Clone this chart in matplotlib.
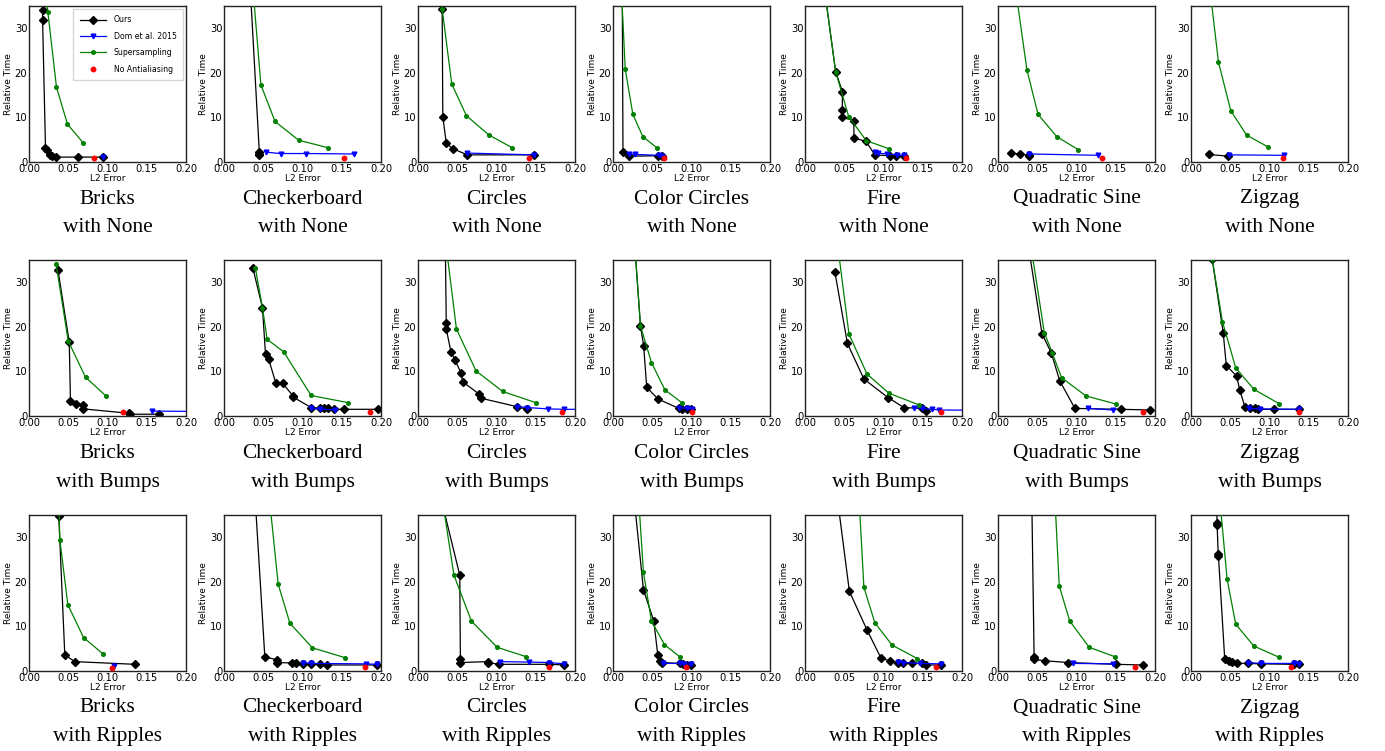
import matplotlib
matplotlib.use("Agg")
import matplotlib.pyplot as plt

SCENES = ["Bricks", "Checkerboard", "Circles", "Color Circles", "Fire", "Quadratic Sine", "Zigzag"]
MODIFIERS = ["None", "Bumps", "Ripples"]
XTICKS = [0.00, 0.05, 0.10, 0.15, 0.20]
YTICKS = [0, 10, 20, 30]
SERIES_NAMES = ["Ours", "Dom et al. 2015", "Supersampling", "No Antialiasing"]

# ---- Ours (row-major: None row, Bumps row, Ripples row) ----
OURS_X = [
    [0.0173, 0.0173, 0.021, 0.0224, 0.027, 0.0295, 0.035, 0.063, 0.094],
    [0.030, 0.045, 0.0445, 0.045],
    [0.0308, 0.0316, 0.036, 0.044, 0.063, 0.148],
    [0.0115, 0.0127, 0.020, 0.057, 0.062],
    [0.020, 0.039, 0.0476, 0.0476, 0.0476, 0.0623, 0.0623, 0.078, 0.0888, 0.1086, 0.116, 0.1255],
    [0.0169, 0.028, 0.040, 0.040],
    [0.0224, 0.0474],
    [0.0369, 0.0513, 0.0528, 0.060, 0.069, 0.069, 0.128, 0.129, 0.166],
    [0.0369, 0.049, 0.0529, 0.057, 0.066, 0.0748, 0.088, 0.0885, 0.111, 0.122, 0.128, 0.133, 0.140, 0.153, 0.196],
    [0.034, 0.036, 0.036, 0.042, 0.047, 0.055, 0.0567, 0.078, 0.080, 0.126, 0.139],
    [0.025, 0.035, 0.039, 0.043, 0.0575, 0.084, 0.088, 0.094, 0.099],
    [0.038, 0.054, 0.075, 0.106, 0.126, 0.149, 0.154],
    [0.0327, 0.056, 0.068, 0.0786, 0.098, 0.157, 0.193],
    [0.027, 0.041, 0.045, 0.058, 0.0622, 0.0686, 0.075, 0.081, 0.085, 0.106, 0.137],
    [0.0379, 0.0456, 0.0585, 0.135],
    [0.0375, 0.052, 0.0675, 0.0675, 0.087, 0.092, 0.101, 0.111, 0.122, 0.1315, 0.1947],
    [0.0206, 0.0532, 0.054, 0.054, 0.0887, 0.0887, 0.1034, 0.1675, 0.186],
    [0.0232, 0.0388, 0.052, 0.057, 0.0594, 0.0625, 0.085, 0.089, 0.094, 0.099],
    [0.0367, 0.0565, 0.079, 0.0965, 0.108, 0.119, 0.125, 0.1365, 0.149, 0.154, 0.173],
    [0.0425, 0.046, 0.046, 0.0594, 0.0895, 0.150, 0.185],
    [0.031, 0.0333, 0.0333, 0.0346, 0.035, 0.043, 0.048, 0.0526, 0.059, 0.072, 0.0897, 0.131, 0.137],
]
OURS_Y = [
    [34.1, 31.9, 3.1, 2.6, 1.6, 1.3, 1.1, 1.1, 1.1],
    [50, 2.2, 1.8, 1.6],
    [34.3, 10.2, 4.25, 3.0, 1.6, 1.6],
    [50, 2.2, 1.3, 1.4, 1.4],
    [45, 20.3, 15.8, 11.7, 10.0, 9.3, 5.4, 4.6, 1.6, 1.4, 1.4, 1.4],
    [2.0, 1.8, 1.5, 1.3],
    [1.7, 1.3],
    [32.8, 16.5, 3.4, 2.8, 2.5, 1.6, 0.6, 0.4, 0.4],
    [33.1, 24.3, 13.8, 12.7, 7.4, 7.3, 4.5, 4.2, 1.9, 1.7, 1.7, 1.7, 1.5, 1.5, 1.5],
    [50, 20.9, 19.5, 14.4, 12.6, 9.6, 7.7, 4.9, 4.0, 2.1, 1.5],
    [45, 20.2, 15.8, 6.4, 3.8, 1.7, 1.6, 1.5, 1.6],
    [32.4, 16.3, 8.3, 4.1, 1.9, 1.7, 1.2],
    [45, 18.5, 14.1, 7.9, 1.7, 1.5, 1.35],
    [35.2, 18.7, 11.3, 9.0, 5.8, 2.1, 1.7, 1.9, 1.5, 1.5, 1.5],
    [34.8, 3.6, 2.1, 1.5],
    [45, 3.2, 2.5, 1.9, 1.8, 1.7, 1.5, 1.5, 1.5, 1.35, 1.35],
    [45, 21.5, 2.6, 1.9, 2.1, 1.9, 1.5, 1.5, 1.35],
    [45, 18.2, 11.2, 3.6, 2.3, 1.9, 1.7, 1.6, 1.35, 1.35],
    [45, 17.9, 9.2, 3.0, 2.2, 1.9, 1.9, 1.7, 1.7, 1.35, 1.35],
    [45, 3.2, 2.6, 2.3, 1.9, 1.5, 1.35],
    [45, 33.1, 32.8, 26.3, 25.7, 2.6, 2.3, 2.1, 1.7, 1.7, 1.6, 1.5, 1.5],
]

# ---- Dom et al. 2015 ----
DOM_X = [
    [0.094],
    [0.0536, 0.072, 0.105, 0.165],
    [0.063, 0.148],
    [0.020, 0.028, 0.058, 0.062],
    [0.0888, 0.0926, 0.105, 0.1166, 0.126],
    [0.040, 0.128],
    [0.049, 0.118],
    [0.157, 0.23],
    [0.111, 0.122, 0.141],
    [0.126, 0.139, 0.165, 0.186, 0.22],
    [0.084, 0.094, 0.1005],
    [0.139, 0.149, 0.162, 0.171, 0.22],
    [0.115, 0.146],
    [0.074, 0.088, 0.137],
    [0.108],
    [0.101, 0.111, 0.1815, 0.1947],
    [0.105, 0.142, 0.1675, 0.186],
    [0.064, 0.085, 0.091, 0.099],
    [0.119, 0.125, 0.146, 0.173],
    [0.096, 0.147],
    [0.072, 0.0897, 0.131, 0.137],
]
DOM_Y = [
    [1.1],
    [2.2, 1.9, 1.9, 1.8],
    [2.0, 1.6],
    [1.9, 1.7, 1.5, 1.4],
    [2.2, 2.0, 1.8, 1.6, 1.5],
    [1.8, 1.5],
    [1.6, 1.5],
    [1.1, 1.0],
    [1.7, 1.6, 1.35],
    [2.1, 1.9, 1.6, 1.5, 1.5],
    [1.9, 1.7, 1.5],
    [1.9, 1.7, 1.5, 1.35, 1.3],
    [1.7, 1.35],
    [1.7, 1.6, 1.5],
    [1.1],
    [1.9, 1.7, 1.6, 1.5],
    [2.1, 2.0, 1.9, 1.6],
    [1.7, 1.7, 1.6, 1.5],
    [2.1, 1.9, 1.7, 1.6],
    [1.7, 1.6],
    [1.9, 1.7, 1.7, 1.6],
]

# ---- Supersampling ----
SS_X = [
    [0.020, 0.024, 0.035, 0.049, 0.069],
    [0.034, 0.047, 0.065, 0.095, 0.1325],
    [0.0308, 0.043, 0.0616, 0.090, 0.120],
    [0.009, 0.0156, 0.0253, 0.038, 0.0565],
    [0.020, 0.039, 0.0556, 0.078, 0.1065],
    [0.0175, 0.0368, 0.051, 0.0748, 0.102],
    [0.020, 0.035, 0.0507, 0.071, 0.098],
    [0.0345, 0.050, 0.072, 0.098],
    [0.040, 0.049, 0.055, 0.076, 0.111, 0.158],
    [0.031, 0.049, 0.074, 0.108, 0.150],
    [0.025, 0.035, 0.049, 0.066, 0.0875],
    [0.0368, 0.056, 0.079, 0.107, 0.145],
    [0.0359, 0.059, 0.069, 0.081, 0.112, 0.150],
    [0.027, 0.040, 0.057, 0.080, 0.112],
    [0.036, 0.0393, 0.0494, 0.0695, 0.0945],
    [0.0542, 0.069, 0.084, 0.1126, 0.154],
    [0.0253, 0.0458, 0.068, 0.101, 0.138],
    [0.0303, 0.0388, 0.049, 0.0656, 0.085],
    [0.0669, 0.075, 0.089, 0.111, 0.143],
    [0.0707, 0.078, 0.0914, 0.1163, 0.149],
    [0.0333, 0.046, 0.057, 0.080, 0.112],
]
SS_Y = [
    [40, 33.7, 16.8, 8.5, 4.3],
    [45, 17.3, 9.1, 4.9, 3.2],
    [34.3, 17.5, 10.4, 6.1, 3.2],
    [45, 20.8, 10.7, 5.7, 3.1],
    [45, 20.3, 10.2, 4.8, 3.0],
    [45, 20.7, 10.7, 5.7, 2.8],
    [45, 22.4, 11.5, 6.0, 3.4],
    [34.1, 16.8, 8.7, 4.5],
    [33.1, 24.3, 17.2, 14.4, 4.6, 3.0],
    [45, 19.5, 10.1, 5.5, 3.0],
    [45, 20.2, 12.0, 5.9, 3.0],
    [45, 18.4, 9.4, 5.1, 2.5],
    [45, 18.7, 14.2, 8.6, 4.5, 2.7],
    [35.2, 21.2, 10.8, 6.0, 2.8],
    [50, 29.5, 14.9, 7.5, 3.8],
    [45, 19.5, 10.7, 5.2, 3.0],
    [45, 21.5, 11.2, 5.3, 3.2],
    [45, 22.1, 11.2, 5.9, 3.2],
    [45, 18.8, 10.8, 5.8, 2.8],
    [45, 19.1, 11.2, 5.3, 3.2],
    [45, 20.6, 10.5, 5.6, 3.1],
]

# ---- No Antialiasing ----
NOAA_X = [0.083, 0.153, 0.141, 0.065, 0.129, 0.132, 0.117,
          0.120, 0.186, 0.184, 0.100, 0.173, 0.185, 0.138,
          0.1055, 0.179, 0.1665, 0.0925, 0.167, 0.174, 0.1275]
NOAA_Y = [1.0, 1.0, 1.0, 1.0, 1.0, 1.0, 1.0,
          1.0, 1.0, 1.0, 1.0, 1.0, 1.0, 1.0,
          0.6, 1.0, 1.0, 1.0, 1.0, 1.0, 1.0]

# ---------------- layout ----------------
W, H = 1385, 751
fig = plt.figure(figsize=(W / 100, H / 100), dpi=100)
COL_LEFT = [29, 224, 418, 613, 805, 998, 1191]
ROW_TOP = [6, 260, 515]
AX_W, AX_H = 157, 156

for r, mod in enumerate(MODIFIERS):
    for c, scene in enumerate(SCENES):
        i = r * 7 + c
        left, top = COL_LEFT[c], ROW_TOP[r]
        ax = fig.add_axes([left / W, 1 - (top + AX_H) / H, AX_W / W, AX_H / H])
        ax.plot(OURS_X[i], OURS_Y[i], color="black", marker="D", markersize=3.6,
                linewidth=0.9, label=SERIES_NAMES[0], zorder=2)
        ax.plot(DOM_X[i], DOM_Y[i], color="blue", marker="v", markersize=3.4,
                linewidth=0.9, label=SERIES_NAMES[1], zorder=3)
        ax.plot(SS_X[i], SS_Y[i], color="green", marker="o", markersize=2.6,
                linewidth=0.9, label=SERIES_NAMES[2], zorder=4)
        ax.plot([NOAA_X[i]], [NOAA_Y[i]], color="red", marker="o", markersize=3.2,
                linestyle="none", label=SERIES_NAMES[3], zorder=5)
        ax.set_xlim(0, 0.2)
        ax.set_ylim(0, 35)
        ax.set_xticks(XTICKS)
        ax.set_xticklabels([f"{t:.2f}" for t in XTICKS])
        ax.set_yticks(YTICKS)
        ax.tick_params(labelsize=7.2, length=0, width=0, pad=1.2)
        ax.set_xlabel("L2 Error", fontsize=6.5, labelpad=0.5)
        ax.set_ylabel("Relative Time", fontsize=6.5, labelpad=1.5)
        for s in ax.spines.values():
            s.set_linewidth(1.0)
            s.set_color("#222222")
        if i == 0:
            ax.legend(loc="upper right", fontsize=5.6, frameon=True,
                      borderpad=0.8, labelspacing=0.95, handlelength=3.4,
                      handletextpad=1.0, fancybox=False, edgecolor="#cccccc",
                      borderaxespad=0.4)
        cx = (left + AX_W / 2) / W
        ybase = top + AX_H
        fig.text(cx, 1 - (ybase + 37) / H, scene, ha="center", va="center",
                 fontsize=15.4, family="Liberation Serif")
        fig.text(cx, 1 - (ybase + 66) / H, f"with {mod}", ha="center", va="center",
                 fontsize=15.4, family="Liberation Serif")

fig.savefig("out.png", dpi=100)
